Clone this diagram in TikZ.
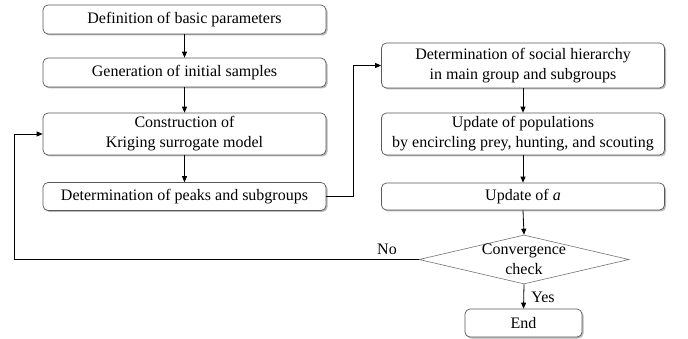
\documentclass[tikz,border=0pt]{standalone}
\usepackage{fontspec}
\setmainfont{Liberation Serif}
\usetikzlibrary{arrows.meta,shapes.geometric,shadows}
\begin{document}
\begin{tikzpicture}[x=1pt,y=-1pt,
  font=\fontsize{16}{20}\selectfont,
  box/.style={draw=black!65, line width=0.7pt, rounded corners=5pt, fill=white,
    align=center, inner sep=0pt,
    drop shadow={shadow xshift=1.5pt, shadow yshift=-1.5pt, fill=black!35, opacity=0.8}},
  lbox/.style={box, minimum width=283pt},
  dec/.style={draw=black!55, line width=0.6pt, diamond, minimum width=210pt, minimum height=49pt, inner sep=0pt},
  arr/.style={draw=black, line width=0.8pt, -{Triangle[length=6pt,width=5pt]}},
  lbl/.style={inner sep=0pt}]
\useasboundingbox (0,0) rectangle (688,339);
\node[lbox, minimum height=29pt] (b1) at (184.5,19.5) {Definition of basic parameters};
\node[lbox, minimum height=29pt] (b2) at (184.5,72.5) {Generation of initial samples};
\node[lbox, minimum height=42pt] (b3) at (184.5,134) {Construction of\\Kriging surrogate model};
\node[lbox, minimum height=28pt] (b4) at (184.5,196.5) {Determination of peaks and subgroups};
\node[lbox, minimum height=45pt] (b5) at (523,65.5) {Determination of social hierarchy\\in main group and subgroups};
\node[lbox, minimum height=42pt] (b6) at (523,134) {Update of populations\\by encircling prey, hunting, and scouting};
\node[lbox, minimum height=27pt] (b7) at (523,196.5) {Update of \textit{a}};
\node[dec] (d) at (524,259.5) {};
\node[lbl, align=center] (dt) at (524,259.5) {Convergence\\check};
\node[box, minimum width=117pt, minimum height=28pt] (e) at (523.5,323) {End};
\coordinate (c1) at (353,196.5);
\coordinate (c2) at (353,65.5);
\coordinate (c3) at (14,259.5);
\coordinate (c4) at (14,134);
\draw[arr] (b1) -- (b2);
\draw[arr] (b2) -- (b3);
\draw[arr] (b3) -- (b4);
\draw[arr] (b4.east) -- (c1) -- (c2) -- (b5.west);
\draw[arr] (b5) -- (b6);
\draw[arr] (b6) -- (b7);
\draw[arr] (b7.south) -- (d.north);
\draw[arr] (d.south) -- (e.north);
\draw[arr] (d.west) -- (c3) -- (c4) -- (b3.west);
\node[lbl] (no) at (387,249) {No};
\node[lbl] (yes) at (543,297) {Yes};
\end{tikzpicture}
\end{document}
